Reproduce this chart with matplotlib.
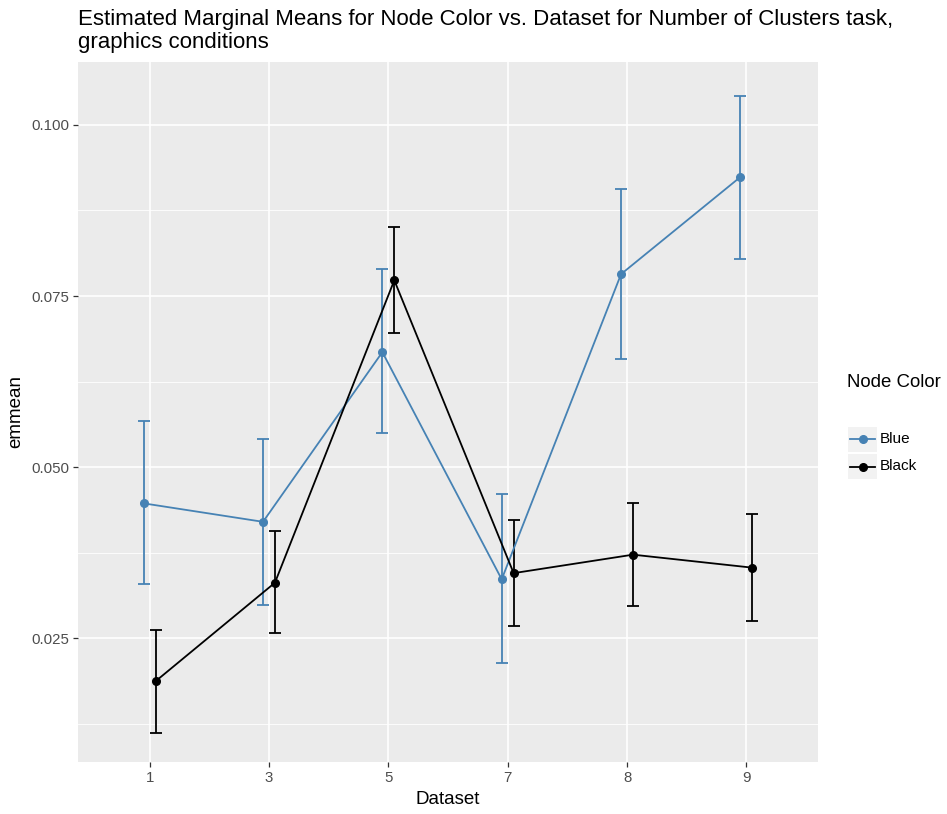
import matplotlib
matplotlib.use("Agg")
import matplotlib.pyplot as plt
from matplotlib.patches import Rectangle
from matplotlib.lines import Line2D
import numpy as np

datasets = ["1", "3", "5", "7", "8", "9"]
groups = ["Blue", "Black"]
colors = {"Blue": "#4682B4", "Black": "#000000"}

blue_mean = [0.0447, 0.0420, 0.0668, 0.0336, 0.0782, 0.0924]
blue_low = [0.0329, 0.0299, 0.0550, 0.0213, 0.0658, 0.0804]
blue_high = [0.0568, 0.0541, 0.0789, 0.0460, 0.0906, 0.1042]

black_mean = [0.0187, 0.0331, 0.0773, 0.0345, 0.0372, 0.0353]
black_low = [0.0112, 0.0257, 0.0696, 0.0268, 0.0297, 0.0275]
black_high = [0.0262, 0.0406, 0.0851, 0.0422, 0.0448, 0.0431]

series = {
    "Blue": (blue_mean, blue_low, blue_high),
    "Black": (black_mean, black_low, black_high),
}
dodge = {"Blue": -0.05, "Black": 0.05}

plt.rcParams['font.family'] = ['Liberation Sans', 'DejaVu Sans']

W, H = 947, 814
fig = plt.figure(figsize=(W / 100, H / 100), dpi=100)
ax = fig.add_axes([78 / W, 1 - 762 / H, (818 - 78) / W, (762 - 62) / H])
ax.set_facecolor("#EBEBEB")

x = np.arange(len(datasets))
for g in groups:
    m, lo, hi = (np.array(v) for v in series[g])
    xs = x + dodge[g]
    ax.errorbar(xs, m, yerr=[m - lo, hi - m], fmt="none", ecolor=colors[g],
                elinewidth=1.3, capsize=4, capthick=1.3, zorder=3)
    ax.plot(xs, m, color=colors[g], lw=1.3, marker="o", ms=5.5, zorder=4)

ax.set_xlim(-0.6, len(datasets) - 0.4)
ax.set_ylim(0.0069, 0.1092)
ax.set_xticks(x)
ax.set_xticklabels(datasets)
yt = [0.025, 0.050, 0.075, 0.100]
ax.set_yticks(yt)
ax.set_yticklabels(["0.025", "0.050", "0.075", "0.100"])
ax.set_yticks([0.0125, 0.0375, 0.0625, 0.0875], minor=True)
ax.grid(True, which="major", color="white", lw=1.2, zorder=0)
ax.grid(True, which="minor", axis="y", color="white", lw=0.6, zorder=0)
ax.set_axisbelow(True)
for s in ax.spines.values():
    s.set_visible(False)
ax.tick_params(axis="both", which="major", length=3.5, width=0.9, color="#333333",
               labelcolor="#4D4D4D", labelsize=10.8, pad=3)
ax.tick_params(axis="y", which="minor", length=0)

ax.set_xlabel("Dataset", fontsize=13.5, labelpad=4)
ax.set_ylabel("emmean", fontsize=13.5, labelpad=5)

fig.text(78 / W, 1 - 9 / H, "Estimated Marginal Means for Node Color vs. Dataset for Number of Clusters task,\ngraphics conditions",
         fontsize=16, ha="left", va="top", linespacing=1.15)

# legend
fig.text(847 / W, 1 - 382 / H, "Node Color", fontsize=13.4, ha="left", va="center")
for i, g in enumerate(groups):
    y0 = 427 + i * 27
    fig.patches.append(Rectangle((848 / W, 1 - (y0 + 25) / H), 29 / W, 25 / H,
                                 transform=fig.transFigure, facecolor="#F2F2F2",
                                 edgecolor="none"))
    yc = 1 - (y0 + 12.5) / H
    fig.add_artist(Line2D([850 / W, 875 / W], [yc, yc], transform=fig.transFigure,
                          color=colors[g], lw=1.3))
    fig.add_artist(Line2D([862.5 / W], [yc], transform=fig.transFigure,
                          color=colors[g], marker="o", ms=5.5, lw=0))
    fig.text(880 / W, yc, g, fontsize=11, ha="left", va="center")

fig.savefig("out.png", dpi=100)
